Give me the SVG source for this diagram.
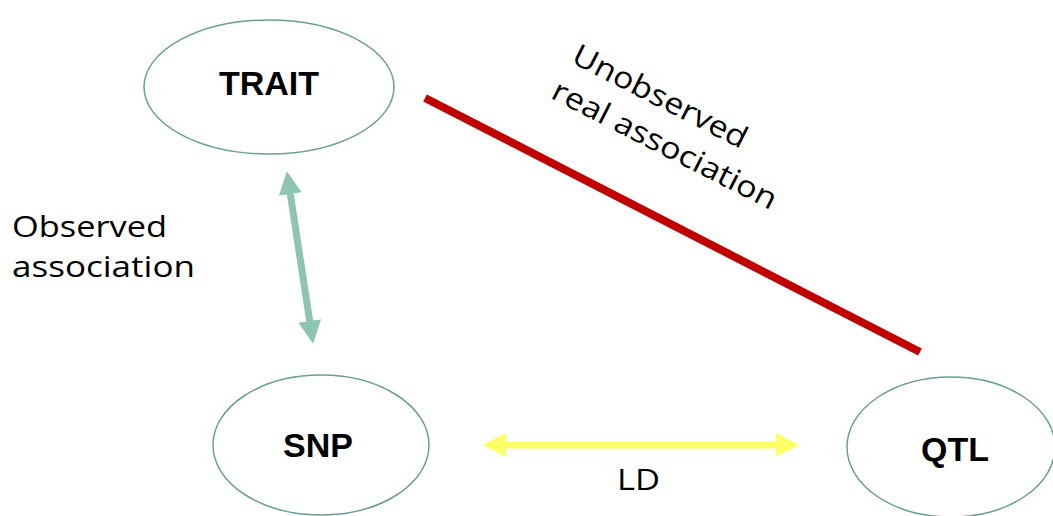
<svg xmlns="http://www.w3.org/2000/svg" width="1053" height="516" viewBox="0 0 1053 516">
  <style>
    .node { fill: #ffffff; stroke: #6a9e92; stroke-width: 1.5; }
    .lbl { font-family: "Liberation Sans", Arial, sans-serif; font-weight: bold; font-size: 34px; fill: #000000; text-anchor: middle; }
    .txt { font-family: "Open Sans", "DejaVu Sans", sans-serif; font-size: 30px; fill: #000000; }
  </style>
  <defs>
    <marker id="headGreen" viewBox="0 0 23 23" refX="2" refY="11.5" markerWidth="23" markerHeight="23" markerUnits="userSpaceOnUse" orient="auto-start-reverse">
      <path d="M0,0 L23,11.5 L0,23 z" fill="#8ec4b3"/>
    </marker>
    <marker id="headYellow" viewBox="0 0 23 24" refX="2" refY="12" markerWidth="23" markerHeight="24" markerUnits="userSpaceOnUse" orient="auto-start-reverse">
      <path d="M0,0 L23,12 L0,24 z" fill="#ffff66"/>
    </marker>
  </defs>

  <!-- connectors -->
  <g id="connectors">
    <line x1="425" y1="98" x2="920" y2="352" stroke="#c00000" stroke-width="8"/>
    <line x1="290" y1="192" x2="310" y2="323" stroke="#8ec4b3" stroke-width="7" marker-start="url(#headGreen)" marker-end="url(#headGreen)"/>
    <line x1="504" y1="445" x2="778" y2="445" stroke="#ffff66" stroke-width="7" marker-start="url(#headYellow)" marker-end="url(#headYellow)"/>
  </g>

  <!-- nodes -->
  <g id="trait">
    <ellipse class="node" cx="269" cy="87" rx="125" ry="67"/>
    <text class="lbl" x="269" y="95">TRAIT</text>
  </g>
  <g id="snp">
    <ellipse class="node" cx="321" cy="445" rx="108" ry="70"/>
    <text class="lbl" x="318" y="457">SNP</text>
  </g>
  <g id="qtl">
    <ellipse class="node" cx="951" cy="447" rx="104" ry="70"/>
    <text class="lbl" x="955" y="461">QTL</text>
  </g>

  <!-- edge labels -->
  <g id="labels">
    <text class="txt" x="12" y="237" textLength="155" lengthAdjust="spacingAndGlyphs">Observed</text>
    <text class="txt" x="12" y="277" textLength="183" lengthAdjust="spacingAndGlyphs">association</text>
    <text class="txt" x="617" y="490" font-size="32" textLength="43" lengthAdjust="spacingAndGlyphs">LD</text>
    <g transform="translate(570,62) rotate(27)">
      <text class="txt" x="0" y="0" textLength="192" lengthAdjust="spacingAndGlyphs">Unobserved</text>
      <text class="txt" x="-2" y="41" textLength="248" lengthAdjust="spacingAndGlyphs">real association</text>
    </g>
  </g>
</svg>
